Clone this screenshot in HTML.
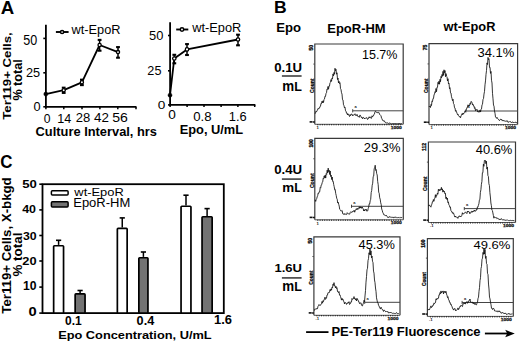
<!DOCTYPE html>
<html><head><meta charset="utf-8"><style>
html,body{margin:0;padding:0;background:#fff;}
svg{display:block;}
text{font-family:"Liberation Sans", sans-serif;}
</style></head><body>
<svg width="520" height="343" viewBox="0 0 520 343">
<rect width="520" height="343" fill="#fff"/>
<text transform="translate(0.73,14.30) scale(1.0600,1)" font-size="17.60" font-weight="bold" fill="#000" stroke="#000" stroke-width="0" >A</text>
<line x1="45.90" y1="24.80" x2="45.90" y2="107.60" stroke="#000" stroke-width="1.8" />
<line x1="45.00" y1="106.80" x2="136.40" y2="106.80" stroke="#000" stroke-width="1.8" />
<line x1="43.30" y1="38.40" x2="45.90" y2="38.40" stroke="#000" stroke-width="1.6" />
<line x1="43.30" y1="72.80" x2="45.90" y2="72.80" stroke="#000" stroke-width="1.6" />
<line x1="43.30" y1="106.80" x2="45.90" y2="106.80" stroke="#000" stroke-width="1.6" />
<line x1="45.90" y1="106.80" x2="45.90" y2="109.20" stroke="#000" stroke-width="1.5" />
<line x1="63.80" y1="106.80" x2="63.80" y2="109.20" stroke="#000" stroke-width="1.5" />
<line x1="82.00" y1="106.80" x2="82.00" y2="109.20" stroke="#000" stroke-width="1.5" />
<line x1="99.90" y1="106.80" x2="99.90" y2="109.20" stroke="#000" stroke-width="1.5" />
<line x1="117.80" y1="106.80" x2="117.80" y2="109.20" stroke="#000" stroke-width="1.5" />
<line x1="136.00" y1="106.80" x2="136.00" y2="109.20" stroke="#000" stroke-width="1.5" />
<text transform="translate(23.30,44.80) scale(0.9148,1)" font-size="13.76" font-weight="normal" fill="#000"  >50</text>
<text transform="translate(25.96,76.90) scale(0.9358,1)" font-size="13.62" font-weight="normal" fill="#000"  >25</text>
<text transform="translate(33.59,110.50) scale(0.9581,1)" font-size="13.33" font-weight="normal" fill="#000"  >0</text>
<text transform="translate(43.71,122.50) scale(0.9013,1)" font-size="13.48" font-weight="normal" fill="#000"  >0</text>
<text transform="translate(57.15,122.50) scale(0.9420,1)" font-size="13.38" font-weight="normal" fill="#000"  >14</text>
<text transform="translate(75.85,122.40) scale(1.0019,1)" font-size="13.05" font-weight="normal" fill="#000"  >28</text>
<text transform="translate(94.00,122.40) scale(1.0269,1)" font-size="13.05" font-weight="normal" fill="#000"  >42</text>
<text transform="translate(112.14,122.40) scale(1.0817,1)" font-size="13.05" font-weight="normal" fill="#000"  >56</text>
<text transform="translate(35.59,136.10) scale(0.9916,1)" font-size="12.97" font-weight="bold" fill="#000" stroke="#000" stroke-width="0" >Culture Interval, hrs</text>
<text transform="translate(11.30,119.73) rotate(-90) scale(1.1838,1)" font-size="11.17" font-weight="bold" fill="#000" stroke="#000" stroke-width="0">Ter119+ Cells,</text>
<text transform="translate(22.40,100.62) rotate(-90) scale(0.9742,1)" font-size="12.97" font-weight="bold" fill="#000" stroke="#000" stroke-width="0">% total</text>
<polyline points="45.80,94.10 63.70,90.20 81.90,82.30 99.60,45.00 118.00,52.10" fill="none" stroke="#000" stroke-width="1.8" stroke-linejoin="round" />
<line x1="63.70" y1="87.70" x2="63.70" y2="92.90" stroke="#000" stroke-width="1.5" />
<line x1="61.80" y1="87.70" x2="65.60" y2="87.70" stroke="#000" stroke-width="2.1" />
<line x1="61.80" y1="92.90" x2="65.60" y2="92.90" stroke="#000" stroke-width="2.1" />
<line x1="81.90" y1="79.70" x2="81.90" y2="85.10" stroke="#000" stroke-width="1.5" />
<line x1="80.00" y1="79.70" x2="83.80" y2="79.70" stroke="#000" stroke-width="2.1" />
<line x1="80.00" y1="85.10" x2="83.80" y2="85.10" stroke="#000" stroke-width="2.1" />
<line x1="99.60" y1="39.90" x2="99.60" y2="50.70" stroke="#000" stroke-width="1.5" />
<line x1="97.70" y1="39.90" x2="101.50" y2="39.90" stroke="#000" stroke-width="2.1" />
<line x1="97.70" y1="50.70" x2="101.50" y2="50.70" stroke="#000" stroke-width="2.1" />
<line x1="118.00" y1="47.10" x2="118.00" y2="57.70" stroke="#000" stroke-width="1.5" />
<line x1="116.10" y1="47.10" x2="119.90" y2="47.10" stroke="#000" stroke-width="2.1" />
<line x1="116.10" y1="57.70" x2="119.90" y2="57.70" stroke="#000" stroke-width="2.1" />
<circle cx="45.80" cy="94.10" r="2.00" fill="#000" stroke="#000" stroke-width="0.5"/>
<circle cx="63.70" cy="90.20" r="1.60" fill="#fff" stroke="#000" stroke-width="1.3"/>
<circle cx="81.90" cy="82.30" r="1.60" fill="#fff" stroke="#000" stroke-width="1.3"/>
<circle cx="99.60" cy="45.00" r="1.60" fill="#fff" stroke="#000" stroke-width="1.3"/>
<circle cx="118.00" cy="52.10" r="1.60" fill="#fff" stroke="#000" stroke-width="1.3"/>
<line x1="55.90" y1="32.00" x2="68.60" y2="32.00" stroke="#000" stroke-width="1.9" />
<circle cx="62.10" cy="32.00" r="1.60" fill="#fff" stroke="#000" stroke-width="1.5"/>
<text transform="translate(71.53,34.30) scale(0.9563,1)" font-size="13.38" font-weight="normal" fill="#000"  >wt-EpoR</text>
<line x1="170.10" y1="22.30" x2="170.10" y2="105.80" stroke="#000" stroke-width="1.8" />
<line x1="169.20" y1="104.90" x2="255.40" y2="104.90" stroke="#000" stroke-width="1.8" />
<line x1="168.00" y1="35.50" x2="170.10" y2="35.50" stroke="#000" stroke-width="1.6" />
<line x1="168.00" y1="70.80" x2="170.10" y2="70.80" stroke="#000" stroke-width="1.6" />
<line x1="168.00" y1="104.90" x2="170.10" y2="104.90" stroke="#000" stroke-width="1.6" />
<line x1="170.10" y1="104.90" x2="170.10" y2="107.00" stroke="#000" stroke-width="1.5" />
<line x1="187.10" y1="104.90" x2="187.10" y2="107.00" stroke="#000" stroke-width="1.5" />
<line x1="204.00" y1="104.90" x2="204.00" y2="107.00" stroke="#000" stroke-width="1.5" />
<line x1="221.10" y1="104.90" x2="221.10" y2="107.00" stroke="#000" stroke-width="1.5" />
<line x1="237.90" y1="104.90" x2="237.90" y2="107.00" stroke="#000" stroke-width="1.5" />
<line x1="254.70" y1="104.90" x2="254.70" y2="107.00" stroke="#000" stroke-width="1.5" />
<text transform="translate(148.98,39.70) scale(0.9558,1)" font-size="13.48" font-weight="normal" fill="#000"  >50</text>
<text transform="translate(147.37,75.10) scale(0.9485,1)" font-size="13.33" font-weight="normal" fill="#000"  >25</text>
<text transform="translate(157.76,109.40) scale(1.1868,1)" font-size="11.47" font-weight="normal" fill="#000"  >0</text>
<text transform="translate(168.26,119.40) scale(1.0377,1)" font-size="13.12" font-weight="normal" fill="#000"  >0</text>
<text transform="translate(193.27,120.80) scale(1.0731,1)" font-size="12.33" font-weight="normal" fill="#000"  >0.8</text>
<text transform="translate(228.73,120.70) scale(0.9563,1)" font-size="13.48" font-weight="normal" fill="#000"  >1.6</text>
<text transform="translate(179.63,134.30) scale(1.0716,1)" font-size="12.00" font-weight="bold" fill="#000" stroke="#000" stroke-width="0" >Epo, U/mL</text>
<polyline points="170.00,95.20 174.30,58.50 187.00,49.40 238.00,39.50" fill="none" stroke="#000" stroke-width="1.8" stroke-linejoin="round" />
<line x1="174.30" y1="54.80" x2="174.30" y2="63.30" stroke="#000" stroke-width="1.5" />
<line x1="172.40" y1="54.80" x2="176.20" y2="54.80" stroke="#000" stroke-width="2.1" />
<line x1="172.40" y1="63.30" x2="176.20" y2="63.30" stroke="#000" stroke-width="2.1" />
<line x1="187.00" y1="44.10" x2="187.00" y2="55.00" stroke="#000" stroke-width="1.5" />
<line x1="185.10" y1="44.10" x2="188.90" y2="44.10" stroke="#000" stroke-width="2.1" />
<line x1="185.10" y1="55.00" x2="188.90" y2="55.00" stroke="#000" stroke-width="2.1" />
<line x1="238.00" y1="34.70" x2="238.00" y2="45.30" stroke="#000" stroke-width="1.5" />
<line x1="236.10" y1="34.70" x2="239.90" y2="34.70" stroke="#000" stroke-width="2.1" />
<line x1="236.10" y1="45.30" x2="239.90" y2="45.30" stroke="#000" stroke-width="2.1" />
<circle cx="170.00" cy="95.20" r="2.00" fill="#000" stroke="#000" stroke-width="0.5"/>
<circle cx="174.30" cy="58.50" r="1.70" fill="#fff" stroke="#000" stroke-width="1.3"/>
<circle cx="187.00" cy="49.40" r="1.70" fill="#fff" stroke="#000" stroke-width="1.3"/>
<circle cx="238.00" cy="39.50" r="1.70" fill="#fff" stroke="#000" stroke-width="1.3"/>
<line x1="176.20" y1="29.50" x2="188.30" y2="29.50" stroke="#000" stroke-width="1.9" />
<circle cx="182.00" cy="29.50" r="1.70" fill="#fff" stroke="#000" stroke-width="1.5"/>
<text transform="translate(192.23,31.80) scale(0.9796,1)" font-size="13.09" font-weight="normal" fill="#000"  >wt-EpoR</text>
<text transform="translate(0.22,167.80) scale(0.9610,1)" font-size="17.63" font-weight="bold" fill="#000" stroke="#000" stroke-width="0" >C</text>
<rect x="42.50" y="184.20" width="181.30" height="128.90" fill="none" stroke="#000" stroke-width="1.8"/>
<line x1="39.30" y1="184.20" x2="42.50" y2="184.20" stroke="#000" stroke-width="1.6" />
<line x1="39.30" y1="209.90" x2="42.50" y2="209.90" stroke="#000" stroke-width="1.6" />
<line x1="39.30" y1="235.50" x2="42.50" y2="235.50" stroke="#000" stroke-width="1.6" />
<line x1="39.30" y1="261.00" x2="42.50" y2="261.00" stroke="#000" stroke-width="1.6" />
<line x1="39.30" y1="287.10" x2="42.50" y2="287.10" stroke="#000" stroke-width="1.6" />
<line x1="39.30" y1="313.10" x2="42.50" y2="313.10" stroke="#000" stroke-width="1.6" />
<text transform="translate(22.30,188.20) scale(1.1780,1)" font-size="11.18" font-weight="bold" fill="#000" stroke="#000" stroke-width="0" >50</text>
<text transform="translate(22.21,213.30) scale(1.1396,1)" font-size="10.90" font-weight="bold" fill="#000" stroke="#000" stroke-width="0" >40</text>
<text transform="translate(22.92,239.80) scale(1.1156,1)" font-size="11.04" font-weight="bold" fill="#000" stroke="#000" stroke-width="0" >30</text>
<text transform="translate(22.25,264.50) scale(1.1793,1)" font-size="10.90" font-weight="bold" fill="#000" stroke="#000" stroke-width="0" >20</text>
<text transform="translate(23.04,289.80) scale(0.9902,1)" font-size="12.33" font-weight="bold" fill="#000" stroke="#000" stroke-width="0" >10</text>
<text transform="translate(28.51,315.80) scale(1.2384,1)" font-size="11.90" font-weight="bold" fill="#000" stroke="#000" stroke-width="0" >0</text>
<text transform="translate(11.00,313.73) rotate(-90) scale(1.0568,1)" font-size="12.55" font-weight="bold" fill="#000" stroke="#000" stroke-width="0">Ter119+ Cells, X-bkgd</text>
<text transform="translate(21.60,276.54) rotate(-90) scale(1.0348,1)" font-size="12.97" font-weight="bold" fill="#000" stroke="#000" stroke-width="0">% total</text>
<text transform="translate(65.02,324.80) scale(0.9529,1)" font-size="12.62" font-weight="bold" fill="#000" stroke="#000" stroke-width="0" >0.1</text>
<text transform="translate(136.59,324.80) scale(0.9964,1)" font-size="12.76" font-weight="bold" fill="#000" stroke="#000" stroke-width="0" >0.4</text>
<text transform="translate(214.09,324.40) scale(1.0241,1)" font-size="12.62" font-weight="bold" fill="#000" stroke="#000" stroke-width="0" >1.6</text>
<text transform="translate(58.14,339.30) scale(1.1901,1)" font-size="10.76" font-weight="bold" fill="#000" stroke="#000" stroke-width="0" >Epo Concentration, U/mL</text>
<line x1="58.60" y1="240.30" x2="58.60" y2="244.90" stroke="#000" stroke-width="1.5" />
<line x1="56.00" y1="240.30" x2="61.20" y2="240.30" stroke="#000" stroke-width="1.6" />
<rect x="53.65" y="245.75" width="9.90" height="67.35" fill="#fff" stroke="#000" stroke-width="1.7" rx="0.8"/>
<line x1="80.10" y1="290.50" x2="80.10" y2="293.10" stroke="#000" stroke-width="1.5" />
<line x1="77.50" y1="290.50" x2="82.70" y2="290.50" stroke="#000" stroke-width="1.6" />
<rect x="75.15" y="293.95" width="9.90" height="19.15" fill="#737373" stroke="#000" stroke-width="1.7" rx="0.8"/>
<line x1="122.25" y1="217.90" x2="122.25" y2="227.50" stroke="#000" stroke-width="1.5" />
<line x1="119.65" y1="217.90" x2="124.85" y2="217.90" stroke="#000" stroke-width="1.6" />
<rect x="117.35" y="228.35" width="9.80" height="84.75" fill="#fff" stroke="#000" stroke-width="1.7" rx="0.8"/>
<line x1="143.40" y1="252.00" x2="143.40" y2="256.90" stroke="#000" stroke-width="1.5" />
<line x1="140.80" y1="252.00" x2="146.00" y2="252.00" stroke="#000" stroke-width="1.6" />
<rect x="138.85" y="257.75" width="9.10" height="55.35" fill="#737373" stroke="#000" stroke-width="1.7" rx="0.8"/>
<line x1="186.00" y1="195.20" x2="186.00" y2="205.40" stroke="#000" stroke-width="1.5" />
<line x1="183.40" y1="195.20" x2="188.60" y2="195.20" stroke="#000" stroke-width="1.6" />
<rect x="181.05" y="206.25" width="9.90" height="106.85" fill="#fff" stroke="#000" stroke-width="1.7" rx="0.8"/>
<line x1="207.10" y1="208.60" x2="207.10" y2="215.90" stroke="#000" stroke-width="1.5" />
<line x1="204.50" y1="208.60" x2="209.70" y2="208.60" stroke="#000" stroke-width="1.6" />
<rect x="202.05" y="216.75" width="10.10" height="96.35" fill="#737373" stroke="#000" stroke-width="1.7" rx="0.8"/>
<rect x="51.4" y="190.7" width="16.7" height="4.4" fill="#fff" stroke="#000" stroke-width="1.5" rx="1"/>
<rect x="51.4" y="201.8" width="16.7" height="5.1" fill="#737373" stroke="#000" stroke-width="1.5" rx="1"/>
<text transform="translate(74.33,196.30) scale(1.1088,1)" font-size="11.64" font-weight="normal" fill="#000"  >wt-EpoR</text>
<text transform="translate(73.23,207.30) scale(1.0635,1)" font-size="12.22" font-weight="normal" fill="#000"  >EpoR-HM</text>
<text transform="translate(274.12,13.40) scale(1.0351,1)" font-size="16.95" font-weight="bold" fill="#000" stroke="#000" stroke-width="0" >B</text>
<text transform="translate(276.31,32.30) scale(1.0618,1)" font-size="12.36" font-weight="bold" fill="#000" stroke="#000" stroke-width="0" >Epo</text>
<text transform="translate(327.22,33.00) scale(1.0034,1)" font-size="12.95" font-weight="bold" fill="#000" stroke="#000" stroke-width="0" >EpoR-HM</text>
<text transform="translate(443.43,30.80) scale(1.0145,1)" font-size="12.65" font-weight="bold" fill="#000" stroke="#000" stroke-width="0" >wt-EpoR</text>
<text transform="translate(274.17,72.40) scale(1.0021,1)" font-size="13.19" font-weight="bold" fill="#000" stroke="#000" stroke-width="0" >0.1U</text>
<line x1="281.90" y1="76.00" x2="301.60" y2="76.00" stroke="#4a4a4a" stroke-width="1.7" />
<text transform="translate(282.13,90.70) scale(0.9461,1)" font-size="14.14" font-weight="bold" fill="#000" stroke="#000" stroke-width="0" >m</text>
<text transform="translate(294.26,90.70) scale(0.9332,1)" font-size="13.38" font-weight="bold" fill="#000" stroke="#000" stroke-width="0" >L</text>
<text transform="translate(274.17,173.80) scale(1.0846,1)" font-size="12.19" font-weight="bold" fill="#000" stroke="#000" stroke-width="0" >0.4U</text>
<line x1="281.90" y1="179.10" x2="301.60" y2="179.10" stroke="#4a4a4a" stroke-width="1.7" />
<text transform="translate(282.13,191.90) scale(0.9986,1)" font-size="13.40" font-weight="bold" fill="#000" stroke="#000" stroke-width="0" >m</text>
<text transform="translate(294.26,191.90) scale(0.9646,1)" font-size="12.95" font-weight="bold" fill="#000" stroke="#000" stroke-width="0" >L</text>
<text transform="translate(274.48,272.40) scale(1.2151,1)" font-size="10.75" font-weight="bold" fill="#000" stroke="#000" stroke-width="0" >1.6U</text>
<line x1="281.90" y1="277.90" x2="301.60" y2="277.90" stroke="#4a4a4a" stroke-width="1.7" />
<text transform="translate(282.13,290.60) scale(0.9587,1)" font-size="13.95" font-weight="bold" fill="#000" stroke="#000" stroke-width="0" >m</text>
<text transform="translate(294.26,290.60) scale(0.9232,1)" font-size="13.53" font-weight="bold" fill="#000" stroke="#000" stroke-width="0" >L</text>
<text transform="translate(361.96,58.80) scale(0.9903,1)" font-size="12.66" font-weight="normal" fill="#000"  >15.7%</text>
<text transform="translate(477.41,57.40) scale(0.9897,1)" font-size="13.12" font-weight="normal" fill="#000"  >34.1%</text>
<text transform="translate(363.86,151.90) scale(1.0340,1)" font-size="12.47" font-weight="normal" fill="#000"  >29.3%</text>
<text transform="translate(475.71,154.00) scale(1.0036,1)" font-size="12.90" font-weight="normal" fill="#000"  >40.6%</text>
<text transform="translate(358.51,249.00) scale(0.9952,1)" font-size="12.90" font-weight="normal" fill="#000"  >45.3%</text>
<text transform="translate(473.51,249.00) scale(1.1353,1)" font-size="11.47" font-weight="normal" fill="#000"  >49.6%</text>
<text transform="translate(331.42,336.20) scale(1.0708,1)" font-size="12.14" font-weight="bold" fill="#000" stroke="#000" stroke-width="0" >PE-Ter119 Fluorescence</text>
<line x1="306.10" y1="332.10" x2="328.50" y2="332.10" stroke="#000" stroke-width="1.8" />
<line x1="484.90" y1="333.50" x2="508.00" y2="333.50" stroke="#000" stroke-width="1.8" />
<polygon points="505.2,329.8 514.8,333.5 505.2,337.3 507.2,333.5" fill="#000"/>
<polyline points="314.80,124.30 314.80,44.00 403.20,44.00 403.20,124.30" fill="none" stroke="#3a3a3a" stroke-width="1.2"/>
<line x1="314.80" y1="124.30" x2="403.20" y2="124.30" stroke="#555" stroke-width="1.0" />
<line x1="317.80" y1="124.10" x2="317.80" y2="125.30" stroke="#222" stroke-width="1.0" />
<line x1="320.10" y1="124.10" x2="320.10" y2="125.30" stroke="#222" stroke-width="1.0" />
<line x1="322.40" y1="124.10" x2="322.40" y2="125.30" stroke="#222" stroke-width="1.0" />
<line x1="324.70" y1="124.10" x2="324.70" y2="125.30" stroke="#222" stroke-width="1.0" />
<line x1="327.00" y1="124.10" x2="327.00" y2="125.30" stroke="#222" stroke-width="1.0" />
<line x1="329.30" y1="124.10" x2="329.30" y2="125.30" stroke="#222" stroke-width="1.0" />
<line x1="331.60" y1="124.10" x2="331.60" y2="125.30" stroke="#222" stroke-width="1.0" />
<line x1="333.90" y1="124.10" x2="333.90" y2="125.30" stroke="#222" stroke-width="1.0" />
<line x1="336.20" y1="124.10" x2="336.20" y2="125.30" stroke="#222" stroke-width="1.0" />
<line x1="338.50" y1="124.10" x2="338.50" y2="125.30" stroke="#222" stroke-width="1.0" />
<line x1="340.80" y1="124.10" x2="340.80" y2="125.30" stroke="#222" stroke-width="1.0" />
<line x1="343.10" y1="124.10" x2="343.10" y2="125.30" stroke="#222" stroke-width="1.0" />
<line x1="345.40" y1="124.10" x2="345.40" y2="125.30" stroke="#222" stroke-width="1.0" />
<line x1="347.70" y1="124.10" x2="347.70" y2="125.30" stroke="#222" stroke-width="1.0" />
<line x1="350.00" y1="124.10" x2="350.00" y2="125.30" stroke="#222" stroke-width="1.0" />
<line x1="352.30" y1="124.10" x2="352.30" y2="125.30" stroke="#222" stroke-width="1.0" />
<line x1="354.60" y1="124.10" x2="354.60" y2="125.30" stroke="#222" stroke-width="1.0" />
<line x1="356.90" y1="124.10" x2="356.90" y2="125.30" stroke="#222" stroke-width="1.0" />
<line x1="359.20" y1="124.10" x2="359.20" y2="125.30" stroke="#222" stroke-width="1.0" />
<line x1="361.50" y1="124.10" x2="361.50" y2="125.30" stroke="#222" stroke-width="1.0" />
<line x1="363.80" y1="124.10" x2="363.80" y2="125.30" stroke="#222" stroke-width="1.0" />
<line x1="366.10" y1="124.10" x2="366.10" y2="125.30" stroke="#222" stroke-width="1.0" />
<line x1="368.40" y1="124.10" x2="368.40" y2="125.30" stroke="#222" stroke-width="1.0" />
<line x1="370.70" y1="124.10" x2="370.70" y2="125.30" stroke="#222" stroke-width="1.0" />
<line x1="373.00" y1="124.10" x2="373.00" y2="125.30" stroke="#222" stroke-width="1.0" />
<line x1="375.30" y1="124.10" x2="375.30" y2="125.30" stroke="#222" stroke-width="1.0" />
<line x1="377.60" y1="124.10" x2="377.60" y2="125.30" stroke="#222" stroke-width="1.0" />
<line x1="379.90" y1="124.10" x2="379.90" y2="125.30" stroke="#222" stroke-width="1.0" />
<line x1="382.20" y1="124.10" x2="382.20" y2="125.30" stroke="#222" stroke-width="1.0" />
<line x1="384.50" y1="124.10" x2="384.50" y2="125.30" stroke="#222" stroke-width="1.0" />
<line x1="386.80" y1="124.10" x2="386.80" y2="125.30" stroke="#222" stroke-width="1.0" />
<line x1="389.10" y1="124.10" x2="389.10" y2="125.30" stroke="#222" stroke-width="1.0" />
<line x1="391.40" y1="124.10" x2="391.40" y2="125.30" stroke="#222" stroke-width="1.0" />
<line x1="393.70" y1="124.10" x2="393.70" y2="125.30" stroke="#222" stroke-width="1.0" />
<line x1="396.00" y1="124.10" x2="396.00" y2="125.30" stroke="#222" stroke-width="1.0" />
<line x1="398.30" y1="124.10" x2="398.30" y2="125.30" stroke="#222" stroke-width="1.0" />
<line x1="400.60" y1="124.10" x2="400.60" y2="125.30" stroke="#222" stroke-width="1.0" />
<line x1="313.00" y1="122.00" x2="314.80" y2="122.00" stroke="#111" stroke-width="1.5" />
<line x1="313.30" y1="64.08" x2="314.80" y2="64.08" stroke="#444" stroke-width="0.9" />
<text transform="translate(312.80,50.50) rotate(-90)" font-size="4.6" font-weight="bold" fill="#111" stroke="#111" stroke-width="0.35" textLength="5.5" lengthAdjust="spacingAndGlyphs">50</text>
<text transform="translate(313.50,92.98) rotate(-90)" font-size="4.6" font-weight="bold" fill="#111" stroke="#111" stroke-width="0.3" textLength="14.45" lengthAdjust="spacingAndGlyphs">Count</text>
<rect x="309.60" y="121.10" width="3" height="1.6" fill="#111"/>
<text x="316.40" y="129.10" font-size="4.2" font-weight="bold" fill="#111">1</text>
<text x="390.70" y="128.70" font-size="4.2" font-weight="bold" fill="#111" stroke="#111" stroke-width="0.25" textLength="11" lengthAdjust="spacingAndGlyphs">1000</text>
<line x1="352.70" y1="110.80" x2="403.20" y2="110.80" stroke="#444" stroke-width="1.0" />
<line x1="352.70" y1="109.20" x2="352.70" y2="112.40" stroke="#333" stroke-width="0.9" />
<text x="354.50" y="108.20" font-size="4" font-weight="bold" fill="#222">a</text>
<polyline points="315.00,113.77 315.50,113.17 316.00,111.22 316.50,111.84 317.00,110.85 317.50,110.01 318.00,108.38 318.50,108.82 319.00,107.87 319.50,108.14 320.00,106.36 320.50,106.22 321.00,103.30 321.50,103.57 322.00,101.28 322.50,102.86 323.00,100.81 323.50,102.55 324.00,99.35 324.50,98.94 325.00,96.19 325.50,96.36 326.00,93.56 326.50,92.77 327.00,88.97 327.50,89.38 328.00,86.51 328.50,89.28 329.00,85.85 329.50,86.05 330.00,82.67 330.50,82.19 331.00,79.64 331.50,81.36 332.00,77.97 332.50,78.72 333.00,73.92 333.50,75.89 334.00,72.49 334.50,74.24 335.00,68.27 335.50,70.71 336.00,69.34 336.50,74.21 337.00,72.80 337.50,79.57 338.00,78.01 338.50,82.95 339.00,81.28 339.50,83.58 340.00,82.72 340.50,88.61 341.00,89.54 341.50,92.74 342.00,94.08 342.50,99.61 343.00,99.89 343.50,104.82 344.00,105.69 344.50,107.98 345.00,107.29 345.50,110.72 346.00,111.15 346.50,113.13 347.00,112.88 347.50,114.97 348.00,113.80 348.50,114.99 349.00,115.43 349.50,116.50 350.00,114.55 350.50,115.63 351.00,114.20 351.50,114.18 352.00,114.05 352.50,115.93 353.00,115.24 353.50,115.04 354.00,114.61 354.50,114.64 355.00,113.74 355.50,115.39 356.00,115.60 356.50,115.53 357.00,114.36 357.50,116.01 358.00,116.06 358.50,117.09 359.00,116.56 359.50,117.32 360.00,114.95 360.50,115.91 361.00,116.55 361.50,117.69 362.00,117.11 362.50,118.78 363.00,117.66 363.50,117.44 364.00,117.84 364.50,118.99 365.00,117.98 365.50,118.28 366.00,117.74 366.50,117.86 367.00,117.78 367.50,119.46 368.00,118.97 368.50,118.64 369.00,116.87 369.50,117.72 370.00,116.78 370.50,117.88 371.00,118.04 371.50,118.34 372.00,115.80 372.50,116.78 373.00,115.70 373.50,115.83 374.00,114.21 374.50,113.90 375.00,111.61 375.50,111.34 376.00,111.65 376.50,112.39 377.00,111.99 377.50,112.76 378.00,112.50 378.50,112.43 379.00,112.56 379.50,114.32 380.00,114.69 380.50,115.21 381.00,115.60 381.50,118.17 382.00,118.76 382.50,120.35 383.00,120.68 383.50,120.84 384.00,120.40 384.50,121.62 385.00,121.63 385.50,122.71 386.00,122.53 386.50,122.93 387.00,122.65 387.50,122.91 388.00,122.92 388.50,123.46 389.00,122.99 389.50,123.16 390.00,122.85 390.50,123.43 391.00,123.36 391.50,123.86 392.00,123.59 392.50,123.69 393.00,123.13 393.50,123.74 394.00,123.16 394.50,123.61 395.00,123.43 395.50,123.56 396.00,123.15 396.50,123.72 397.00,123.31 397.50,123.70 398.00,123.47 398.50,123.78 399.00,123.00 399.50,123.65 400.00,123.24 400.50,123.86 401.00,123.30 401.50,123.68 402.00,123.32" fill="none" stroke="#111" stroke-width="0.85" stroke-linejoin="round" />
<polyline points="429.00,124.60 429.00,43.70 517.60,43.70 517.60,124.60" fill="none" stroke="#3a3a3a" stroke-width="1.2"/>
<line x1="429.00" y1="124.60" x2="517.60" y2="124.60" stroke="#555" stroke-width="1.0" />
<line x1="432.00" y1="124.40" x2="432.00" y2="125.60" stroke="#222" stroke-width="1.0" />
<line x1="434.30" y1="124.40" x2="434.30" y2="125.60" stroke="#222" stroke-width="1.0" />
<line x1="436.60" y1="124.40" x2="436.60" y2="125.60" stroke="#222" stroke-width="1.0" />
<line x1="438.90" y1="124.40" x2="438.90" y2="125.60" stroke="#222" stroke-width="1.0" />
<line x1="441.20" y1="124.40" x2="441.20" y2="125.60" stroke="#222" stroke-width="1.0" />
<line x1="443.50" y1="124.40" x2="443.50" y2="125.60" stroke="#222" stroke-width="1.0" />
<line x1="445.80" y1="124.40" x2="445.80" y2="125.60" stroke="#222" stroke-width="1.0" />
<line x1="448.10" y1="124.40" x2="448.10" y2="125.60" stroke="#222" stroke-width="1.0" />
<line x1="450.40" y1="124.40" x2="450.40" y2="125.60" stroke="#222" stroke-width="1.0" />
<line x1="452.70" y1="124.40" x2="452.70" y2="125.60" stroke="#222" stroke-width="1.0" />
<line x1="455.00" y1="124.40" x2="455.00" y2="125.60" stroke="#222" stroke-width="1.0" />
<line x1="457.30" y1="124.40" x2="457.30" y2="125.60" stroke="#222" stroke-width="1.0" />
<line x1="459.60" y1="124.40" x2="459.60" y2="125.60" stroke="#222" stroke-width="1.0" />
<line x1="461.90" y1="124.40" x2="461.90" y2="125.60" stroke="#222" stroke-width="1.0" />
<line x1="464.20" y1="124.40" x2="464.20" y2="125.60" stroke="#222" stroke-width="1.0" />
<line x1="466.50" y1="124.40" x2="466.50" y2="125.60" stroke="#222" stroke-width="1.0" />
<line x1="468.80" y1="124.40" x2="468.80" y2="125.60" stroke="#222" stroke-width="1.0" />
<line x1="471.10" y1="124.40" x2="471.10" y2="125.60" stroke="#222" stroke-width="1.0" />
<line x1="473.40" y1="124.40" x2="473.40" y2="125.60" stroke="#222" stroke-width="1.0" />
<line x1="475.70" y1="124.40" x2="475.70" y2="125.60" stroke="#222" stroke-width="1.0" />
<line x1="478.00" y1="124.40" x2="478.00" y2="125.60" stroke="#222" stroke-width="1.0" />
<line x1="480.30" y1="124.40" x2="480.30" y2="125.60" stroke="#222" stroke-width="1.0" />
<line x1="482.60" y1="124.40" x2="482.60" y2="125.60" stroke="#222" stroke-width="1.0" />
<line x1="484.90" y1="124.40" x2="484.90" y2="125.60" stroke="#222" stroke-width="1.0" />
<line x1="487.20" y1="124.40" x2="487.20" y2="125.60" stroke="#222" stroke-width="1.0" />
<line x1="489.50" y1="124.40" x2="489.50" y2="125.60" stroke="#222" stroke-width="1.0" />
<line x1="491.80" y1="124.40" x2="491.80" y2="125.60" stroke="#222" stroke-width="1.0" />
<line x1="494.10" y1="124.40" x2="494.10" y2="125.60" stroke="#222" stroke-width="1.0" />
<line x1="496.40" y1="124.40" x2="496.40" y2="125.60" stroke="#222" stroke-width="1.0" />
<line x1="498.70" y1="124.40" x2="498.70" y2="125.60" stroke="#222" stroke-width="1.0" />
<line x1="501.00" y1="124.40" x2="501.00" y2="125.60" stroke="#222" stroke-width="1.0" />
<line x1="503.30" y1="124.40" x2="503.30" y2="125.60" stroke="#222" stroke-width="1.0" />
<line x1="505.60" y1="124.40" x2="505.60" y2="125.60" stroke="#222" stroke-width="1.0" />
<line x1="507.90" y1="124.40" x2="507.90" y2="125.60" stroke="#222" stroke-width="1.0" />
<line x1="510.20" y1="124.40" x2="510.20" y2="125.60" stroke="#222" stroke-width="1.0" />
<line x1="512.50" y1="124.40" x2="512.50" y2="125.60" stroke="#222" stroke-width="1.0" />
<line x1="514.80" y1="124.40" x2="514.80" y2="125.60" stroke="#222" stroke-width="1.0" />
<line x1="427.20" y1="122.30" x2="429.00" y2="122.30" stroke="#111" stroke-width="1.5" />
<line x1="427.50" y1="63.92" x2="429.00" y2="63.92" stroke="#444" stroke-width="0.9" />
<text transform="translate(427.00,50.20) rotate(-90)" font-size="4.6" font-weight="bold" fill="#111" stroke="#111" stroke-width="0.35" textLength="5.5" lengthAdjust="spacingAndGlyphs">75</text>
<text transform="translate(427.70,93.05) rotate(-90)" font-size="4.6" font-weight="bold" fill="#111" stroke="#111" stroke-width="0.3" textLength="14.56" lengthAdjust="spacingAndGlyphs">Count</text>
<rect x="423.80" y="121.40" width="3" height="1.6" fill="#111"/>
<text x="430.60" y="129.40" font-size="4.2" font-weight="bold" fill="#111">1</text>
<text x="505.10" y="129.00" font-size="4.2" font-weight="bold" fill="#111" stroke="#111" stroke-width="0.25" textLength="11" lengthAdjust="spacingAndGlyphs">1000</text>
<line x1="465.80" y1="111.00" x2="517.60" y2="111.00" stroke="#444" stroke-width="1.0" />
<line x1="465.80" y1="109.40" x2="465.80" y2="112.60" stroke="#333" stroke-width="0.9" />
<text x="467.60" y="108.40" font-size="4" font-weight="bold" fill="#222">a</text>
<polyline points="429.00,106.28 429.50,106.83 430.00,106.06 430.50,107.49 431.00,104.47 431.50,105.50 432.00,100.91 432.50,101.54 433.00,98.46 433.50,98.45 434.00,94.98 434.50,93.93 435.00,91.70 435.50,92.52 436.00,88.52 436.50,91.72 437.00,87.22 437.50,87.26 438.00,82.35 438.50,84.10 439.00,81.13 439.50,84.22 440.00,79.35 440.50,81.69 441.00,76.41 441.50,77.87 442.00,74.47 442.50,76.27 443.00,71.35 443.50,75.40 444.00,69.81 444.50,72.69 445.00,70.60 445.50,76.70 446.00,73.59 446.50,76.15 447.00,76.63 447.50,81.01 448.00,78.73 448.50,84.02 449.00,83.27 449.50,88.70 450.00,87.68 450.50,92.81 451.00,93.06 451.50,96.79 452.00,98.31 452.50,100.72 453.00,99.20 453.50,103.60 454.00,104.20 454.50,107.67 455.00,107.88 455.50,111.29 456.00,110.42 456.50,111.92 457.00,113.17 457.50,114.68 458.00,114.08 458.50,115.77 459.00,116.49 459.50,116.71 460.00,116.40 460.50,117.79 461.00,115.91 461.50,115.22 462.00,113.74 462.50,114.70 463.00,112.97 463.50,114.22 464.00,112.89 464.50,112.44 465.00,110.85 465.50,111.63 466.00,110.33 466.50,109.35 467.00,107.30 467.50,107.24 468.00,104.80 468.50,106.20 469.00,105.06 469.50,105.79 470.00,103.37 470.50,104.25 471.00,101.37 471.50,101.82 472.00,102.24 472.50,104.94 473.00,104.19 473.50,106.03 474.00,105.85 474.50,108.39 475.00,107.68 475.50,110.76 476.00,109.54 476.50,110.06 477.00,109.36 477.50,111.69 478.00,110.88 478.50,112.23 479.00,111.57 479.50,112.18 480.00,109.96 480.50,112.03 481.00,109.51 481.50,108.99 482.00,104.91 482.50,104.23 483.00,99.54 483.50,98.62 484.00,94.08 484.50,91.40 485.00,84.79 485.50,80.90 486.00,74.52 486.50,70.57 487.00,62.90 487.50,64.52 488.00,57.42 488.50,59.66 489.00,58.73 489.50,67.37 490.00,67.22 490.50,73.39 491.00,71.44 491.50,80.21 492.00,83.01 492.50,93.29 493.00,98.82 493.50,105.07 494.00,106.18 494.50,110.98 495.00,113.28 495.50,116.96 496.00,117.54 496.50,118.34 497.00,117.39 497.50,118.41 498.00,118.74 498.50,119.63 499.00,119.73 499.50,120.64 500.00,119.69 500.50,119.37 501.00,118.99 501.50,119.97 502.00,119.62 502.50,121.05 503.00,120.47 503.50,120.63 504.00,120.25 504.50,121.14 505.00,120.95 505.50,121.21 506.00,120.92 506.50,121.28 507.00,120.56 507.50,121.85 508.00,122.10 508.50,122.38 509.00,121.48 509.50,122.07 510.00,121.46 510.50,121.78 511.00,121.97 511.50,122.67 512.00,121.96 512.50,122.09 513.00,121.96 513.50,122.86 514.00,122.27 514.50,122.78 515.00,122.27 515.50,122.32 516.00,121.94 516.50,122.93 517.00,122.80" fill="none" stroke="#111" stroke-width="0.85" stroke-linejoin="round" />
<polyline points="314.80,219.80 314.80,138.40 403.30,138.40 403.30,219.80" fill="none" stroke="#3a3a3a" stroke-width="1.2"/>
<line x1="314.80" y1="219.80" x2="403.30" y2="219.80" stroke="#555" stroke-width="1.0" />
<line x1="317.80" y1="219.60" x2="317.80" y2="220.80" stroke="#222" stroke-width="1.0" />
<line x1="320.10" y1="219.60" x2="320.10" y2="220.80" stroke="#222" stroke-width="1.0" />
<line x1="322.40" y1="219.60" x2="322.40" y2="220.80" stroke="#222" stroke-width="1.0" />
<line x1="324.70" y1="219.60" x2="324.70" y2="220.80" stroke="#222" stroke-width="1.0" />
<line x1="327.00" y1="219.60" x2="327.00" y2="220.80" stroke="#222" stroke-width="1.0" />
<line x1="329.30" y1="219.60" x2="329.30" y2="220.80" stroke="#222" stroke-width="1.0" />
<line x1="331.60" y1="219.60" x2="331.60" y2="220.80" stroke="#222" stroke-width="1.0" />
<line x1="333.90" y1="219.60" x2="333.90" y2="220.80" stroke="#222" stroke-width="1.0" />
<line x1="336.20" y1="219.60" x2="336.20" y2="220.80" stroke="#222" stroke-width="1.0" />
<line x1="338.50" y1="219.60" x2="338.50" y2="220.80" stroke="#222" stroke-width="1.0" />
<line x1="340.80" y1="219.60" x2="340.80" y2="220.80" stroke="#222" stroke-width="1.0" />
<line x1="343.10" y1="219.60" x2="343.10" y2="220.80" stroke="#222" stroke-width="1.0" />
<line x1="345.40" y1="219.60" x2="345.40" y2="220.80" stroke="#222" stroke-width="1.0" />
<line x1="347.70" y1="219.60" x2="347.70" y2="220.80" stroke="#222" stroke-width="1.0" />
<line x1="350.00" y1="219.60" x2="350.00" y2="220.80" stroke="#222" stroke-width="1.0" />
<line x1="352.30" y1="219.60" x2="352.30" y2="220.80" stroke="#222" stroke-width="1.0" />
<line x1="354.60" y1="219.60" x2="354.60" y2="220.80" stroke="#222" stroke-width="1.0" />
<line x1="356.90" y1="219.60" x2="356.90" y2="220.80" stroke="#222" stroke-width="1.0" />
<line x1="359.20" y1="219.60" x2="359.20" y2="220.80" stroke="#222" stroke-width="1.0" />
<line x1="361.50" y1="219.60" x2="361.50" y2="220.80" stroke="#222" stroke-width="1.0" />
<line x1="363.80" y1="219.60" x2="363.80" y2="220.80" stroke="#222" stroke-width="1.0" />
<line x1="366.10" y1="219.60" x2="366.10" y2="220.80" stroke="#222" stroke-width="1.0" />
<line x1="368.40" y1="219.60" x2="368.40" y2="220.80" stroke="#222" stroke-width="1.0" />
<line x1="370.70" y1="219.60" x2="370.70" y2="220.80" stroke="#222" stroke-width="1.0" />
<line x1="373.00" y1="219.60" x2="373.00" y2="220.80" stroke="#222" stroke-width="1.0" />
<line x1="375.30" y1="219.60" x2="375.30" y2="220.80" stroke="#222" stroke-width="1.0" />
<line x1="377.60" y1="219.60" x2="377.60" y2="220.80" stroke="#222" stroke-width="1.0" />
<line x1="379.90" y1="219.60" x2="379.90" y2="220.80" stroke="#222" stroke-width="1.0" />
<line x1="382.20" y1="219.60" x2="382.20" y2="220.80" stroke="#222" stroke-width="1.0" />
<line x1="384.50" y1="219.60" x2="384.50" y2="220.80" stroke="#222" stroke-width="1.0" />
<line x1="386.80" y1="219.60" x2="386.80" y2="220.80" stroke="#222" stroke-width="1.0" />
<line x1="389.10" y1="219.60" x2="389.10" y2="220.80" stroke="#222" stroke-width="1.0" />
<line x1="391.40" y1="219.60" x2="391.40" y2="220.80" stroke="#222" stroke-width="1.0" />
<line x1="393.70" y1="219.60" x2="393.70" y2="220.80" stroke="#222" stroke-width="1.0" />
<line x1="396.00" y1="219.60" x2="396.00" y2="220.80" stroke="#222" stroke-width="1.0" />
<line x1="398.30" y1="219.60" x2="398.30" y2="220.80" stroke="#222" stroke-width="1.0" />
<line x1="400.60" y1="219.60" x2="400.60" y2="220.80" stroke="#222" stroke-width="1.0" />
<line x1="313.00" y1="217.50" x2="314.80" y2="217.50" stroke="#111" stroke-width="1.5" />
<line x1="313.30" y1="158.75" x2="314.80" y2="158.75" stroke="#444" stroke-width="0.9" />
<text transform="translate(312.80,147.40) rotate(-90)" font-size="4.6" font-weight="bold" fill="#111" stroke="#111" stroke-width="0.35" textLength="8.0" lengthAdjust="spacingAndGlyphs">100</text>
<text transform="translate(313.50,188.05) rotate(-90)" font-size="4.6" font-weight="bold" fill="#111" stroke="#111" stroke-width="0.3" textLength="14.65" lengthAdjust="spacingAndGlyphs">Count</text>
<rect x="309.60" y="216.60" width="3" height="1.6" fill="#111"/>
<text x="316.40" y="224.60" font-size="4.2" font-weight="bold" fill="#111">1</text>
<text x="390.80" y="224.20" font-size="4.2" font-weight="bold" fill="#111" stroke="#111" stroke-width="0.25" textLength="11" lengthAdjust="spacingAndGlyphs">1000</text>
<line x1="351.50" y1="206.30" x2="403.30" y2="206.30" stroke="#444" stroke-width="1.0" />
<line x1="351.50" y1="204.70" x2="351.50" y2="207.90" stroke="#333" stroke-width="0.9" />
<text x="353.30" y="203.70" font-size="4" font-weight="bold" fill="#222">a</text>
<polyline points="315.20,199.89 315.70,201.42 316.20,199.53 316.70,198.59 317.20,196.82 317.70,195.59 318.20,193.03 318.70,193.43 319.20,191.69 319.70,191.82 320.20,187.57 320.70,188.07 321.20,185.07 321.70,184.81 322.20,182.62 322.70,182.01 323.20,178.42 323.70,178.94 324.20,175.93 324.70,177.80 325.20,175.03 325.70,178.08 326.20,173.66 326.70,174.36 327.20,170.13 327.70,172.95 328.20,168.13 328.70,171.70 329.20,170.22 329.70,174.53 330.20,170.98 330.70,176.50 331.20,175.14 331.70,179.54 332.20,177.01 332.70,181.42 333.20,181.27 333.70,184.57 334.20,186.69 334.70,189.81 335.20,189.42 335.70,193.42 336.20,195.38 336.70,198.25 337.20,199.19 337.70,203.05 338.20,202.16 338.70,204.29 339.20,206.06 339.70,209.23 340.20,209.69 340.70,210.78 341.20,210.56 341.70,211.01 342.20,210.63 342.70,213.73 343.20,214.01 343.70,214.36 344.20,213.46 344.70,214.51 345.20,213.85 345.70,214.33 346.20,214.51 346.70,214.44 347.20,212.70 347.70,213.42 348.20,213.50 348.70,213.99 349.20,213.94 349.70,214.24 350.20,212.53 350.70,211.79 351.20,211.95 351.70,212.53 352.20,211.49 352.70,211.94 353.20,210.94 353.70,211.24 354.20,210.24 354.70,212.21 355.20,210.62 355.70,210.28 356.20,208.89 356.70,209.58 357.20,208.12 357.70,209.47 358.20,208.95 358.70,208.87 359.20,206.81 359.70,208.28 360.20,206.70 360.70,207.98 361.20,207.09 361.70,208.35 362.20,207.03 362.70,208.22 363.20,208.59 363.70,210.96 364.20,209.71 364.70,211.03 365.20,209.37 365.70,209.76 366.20,209.07 366.70,211.12 367.20,210.97 367.70,210.93 368.20,208.58 368.70,207.10 369.20,203.82 369.70,204.03 370.20,200.78 370.70,199.34 371.20,192.47 371.70,190.47 372.20,185.25 372.70,183.19 373.20,176.44 373.70,176.17 374.20,168.40 374.70,168.22 375.20,165.24 375.70,170.42 376.20,169.60 376.70,173.67 377.20,174.98 377.70,181.61 378.20,184.72 378.70,192.20 379.20,193.29 379.70,197.81 380.20,199.16 380.70,202.81 381.20,204.46 381.70,209.06 382.20,210.24 382.70,212.29 383.20,213.13 383.70,214.59 384.20,214.48 384.70,215.39 385.20,215.41 385.70,215.82 386.20,215.09 386.70,215.83 387.20,216.56 387.70,217.44 388.20,216.91 388.70,217.60 389.20,216.69 389.70,216.75 390.20,216.64 390.70,217.45 391.20,217.04 391.70,217.53 392.20,217.16 392.70,217.62 393.20,216.94 393.70,217.82 394.20,217.53 394.70,217.64 395.20,216.78 395.70,217.54 396.20,217.26 396.70,217.80 397.20,217.63 397.70,217.94 398.20,217.20 398.70,217.61 399.20,217.42 399.70,217.95 400.20,217.50 400.70,217.96 401.20,217.11 401.70,217.69 402.20,217.48" fill="none" stroke="#111" stroke-width="0.85" stroke-linejoin="round" />
<polyline points="428.40,222.50 428.40,142.00 515.50,142.00 515.50,222.50" fill="none" stroke="#3a3a3a" stroke-width="1.2"/>
<line x1="428.40" y1="222.50" x2="515.50" y2="222.50" stroke="#555" stroke-width="1.0" />
<line x1="431.40" y1="222.30" x2="431.40" y2="223.50" stroke="#222" stroke-width="1.0" />
<line x1="433.70" y1="222.30" x2="433.70" y2="223.50" stroke="#222" stroke-width="1.0" />
<line x1="436.00" y1="222.30" x2="436.00" y2="223.50" stroke="#222" stroke-width="1.0" />
<line x1="438.30" y1="222.30" x2="438.30" y2="223.50" stroke="#222" stroke-width="1.0" />
<line x1="440.60" y1="222.30" x2="440.60" y2="223.50" stroke="#222" stroke-width="1.0" />
<line x1="442.90" y1="222.30" x2="442.90" y2="223.50" stroke="#222" stroke-width="1.0" />
<line x1="445.20" y1="222.30" x2="445.20" y2="223.50" stroke="#222" stroke-width="1.0" />
<line x1="447.50" y1="222.30" x2="447.50" y2="223.50" stroke="#222" stroke-width="1.0" />
<line x1="449.80" y1="222.30" x2="449.80" y2="223.50" stroke="#222" stroke-width="1.0" />
<line x1="452.10" y1="222.30" x2="452.10" y2="223.50" stroke="#222" stroke-width="1.0" />
<line x1="454.40" y1="222.30" x2="454.40" y2="223.50" stroke="#222" stroke-width="1.0" />
<line x1="456.70" y1="222.30" x2="456.70" y2="223.50" stroke="#222" stroke-width="1.0" />
<line x1="459.00" y1="222.30" x2="459.00" y2="223.50" stroke="#222" stroke-width="1.0" />
<line x1="461.30" y1="222.30" x2="461.30" y2="223.50" stroke="#222" stroke-width="1.0" />
<line x1="463.60" y1="222.30" x2="463.60" y2="223.50" stroke="#222" stroke-width="1.0" />
<line x1="465.90" y1="222.30" x2="465.90" y2="223.50" stroke="#222" stroke-width="1.0" />
<line x1="468.20" y1="222.30" x2="468.20" y2="223.50" stroke="#222" stroke-width="1.0" />
<line x1="470.50" y1="222.30" x2="470.50" y2="223.50" stroke="#222" stroke-width="1.0" />
<line x1="472.80" y1="222.30" x2="472.80" y2="223.50" stroke="#222" stroke-width="1.0" />
<line x1="475.10" y1="222.30" x2="475.10" y2="223.50" stroke="#222" stroke-width="1.0" />
<line x1="477.40" y1="222.30" x2="477.40" y2="223.50" stroke="#222" stroke-width="1.0" />
<line x1="479.70" y1="222.30" x2="479.70" y2="223.50" stroke="#222" stroke-width="1.0" />
<line x1="482.00" y1="222.30" x2="482.00" y2="223.50" stroke="#222" stroke-width="1.0" />
<line x1="484.30" y1="222.30" x2="484.30" y2="223.50" stroke="#222" stroke-width="1.0" />
<line x1="486.60" y1="222.30" x2="486.60" y2="223.50" stroke="#222" stroke-width="1.0" />
<line x1="488.90" y1="222.30" x2="488.90" y2="223.50" stroke="#222" stroke-width="1.0" />
<line x1="491.20" y1="222.30" x2="491.20" y2="223.50" stroke="#222" stroke-width="1.0" />
<line x1="493.50" y1="222.30" x2="493.50" y2="223.50" stroke="#222" stroke-width="1.0" />
<line x1="495.80" y1="222.30" x2="495.80" y2="223.50" stroke="#222" stroke-width="1.0" />
<line x1="498.10" y1="222.30" x2="498.10" y2="223.50" stroke="#222" stroke-width="1.0" />
<line x1="500.40" y1="222.30" x2="500.40" y2="223.50" stroke="#222" stroke-width="1.0" />
<line x1="502.70" y1="222.30" x2="502.70" y2="223.50" stroke="#222" stroke-width="1.0" />
<line x1="505.00" y1="222.30" x2="505.00" y2="223.50" stroke="#222" stroke-width="1.0" />
<line x1="507.30" y1="222.30" x2="507.30" y2="223.50" stroke="#222" stroke-width="1.0" />
<line x1="509.60" y1="222.30" x2="509.60" y2="223.50" stroke="#222" stroke-width="1.0" />
<line x1="511.90" y1="222.30" x2="511.90" y2="223.50" stroke="#222" stroke-width="1.0" />
<line x1="426.60" y1="220.20" x2="428.40" y2="220.20" stroke="#111" stroke-width="1.5" />
<line x1="426.90" y1="162.12" x2="428.40" y2="162.12" stroke="#444" stroke-width="0.9" />
<text transform="translate(426.40,151.00) rotate(-90)" font-size="4.6" font-weight="bold" fill="#111" stroke="#111" stroke-width="0.35" textLength="8.0" lengthAdjust="spacingAndGlyphs">112</text>
<text transform="translate(427.10,191.10) rotate(-90)" font-size="4.6" font-weight="bold" fill="#111" stroke="#111" stroke-width="0.3" textLength="14.49" lengthAdjust="spacingAndGlyphs">Count</text>
<rect x="423.20" y="219.30" width="3" height="1.6" fill="#111"/>
<text x="430.00" y="227.30" font-size="4.2" font-weight="bold" fill="#111">.1</text>
<text x="503.00" y="226.90" font-size="4.2" font-weight="bold" fill="#111" stroke="#111" stroke-width="0.25" textLength="11" lengthAdjust="spacingAndGlyphs">1000</text>
<line x1="464.30" y1="208.60" x2="515.50" y2="208.60" stroke="#444" stroke-width="1.0" />
<line x1="464.30" y1="207.00" x2="464.30" y2="210.20" stroke="#333" stroke-width="0.9" />
<text x="466.10" y="206.00" font-size="4" font-weight="bold" fill="#222">a</text>
<polyline points="428.40,205.43 428.90,205.57 429.40,204.88 429.90,206.13 430.40,206.41 430.90,207.17 431.40,204.98 431.90,204.18 432.40,201.77 432.90,202.01 433.40,199.56 433.90,201.24 434.40,198.66 434.90,198.39 435.40,194.66 435.90,197.48 436.40,195.09 436.90,195.50 437.40,193.12 437.90,194.17 438.40,189.25 438.90,190.70 439.40,189.52 439.90,190.82 440.40,189.25 440.90,189.77 441.40,187.36 441.90,190.06 442.40,188.85 442.90,192.15 443.40,190.36 443.90,191.83 444.40,191.23 444.90,193.81 445.40,193.24 445.90,198.63 446.40,197.09 446.90,199.44 447.40,198.14 447.90,202.59 448.40,201.86 448.90,204.88 449.40,205.50 449.90,207.43 450.40,206.98 450.90,210.49 451.40,211.11 451.90,212.41 452.40,212.17 452.90,213.51 453.40,212.79 453.90,214.13 454.40,215.61 454.90,217.07 455.40,216.04 455.90,217.16 456.40,216.88 456.90,217.54 457.40,217.38 457.90,218.40 458.40,217.02 458.90,216.14 459.40,215.83 459.90,216.76 460.40,215.97 460.90,216.85 461.40,215.99 461.90,215.29 462.40,212.73 462.90,214.09 463.40,213.83 463.90,213.61 464.40,212.97 464.90,213.19 465.40,211.88 465.90,212.50 466.40,212.96 466.90,213.53 467.40,211.15 467.90,212.14 468.40,211.23 468.90,212.04 469.40,212.09 469.90,213.83 470.40,212.44 470.90,211.78 471.40,211.36 471.90,212.54 472.40,211.21 472.90,212.03 473.40,210.95 473.90,211.33 474.40,210.02 474.90,211.45 475.40,211.04 475.90,211.00 476.40,209.51 476.90,209.96 477.40,206.95 477.90,207.18 478.40,205.35 478.90,203.77 479.40,200.12 479.90,199.18 480.40,192.30 480.90,189.72 481.40,184.32 481.90,181.52 482.40,172.71 482.90,172.71 483.40,164.07 483.90,166.32 484.40,160.41 484.90,160.87 485.40,160.33 485.90,163.70 486.40,161.16 486.90,169.11 487.40,167.06 487.90,175.50 488.40,176.43 488.90,183.82 489.40,185.45 489.90,192.68 490.40,196.99 490.90,203.00 491.40,205.68 491.90,210.11 492.40,210.59 492.90,212.94 493.40,215.57 493.90,218.20 494.40,216.84 494.90,217.20 495.40,217.47 495.90,217.99 496.40,217.60 496.90,218.75 497.40,218.32 497.90,218.48 498.40,218.57 498.90,219.54 499.40,219.31 499.90,220.03 500.40,219.28 500.90,219.54 501.40,218.59 501.90,219.47 502.40,219.68 502.90,220.21 503.40,219.51 503.90,220.15 504.40,219.87 504.90,220.27 505.40,220.16 505.90,220.64 506.40,219.94 506.90,220.35 507.40,219.86 507.90,220.46 508.40,220.55 508.90,221.05 509.40,220.47 509.90,220.57 510.40,220.23 510.90,220.82 511.40,220.15 511.90,220.74 512.40,220.48 512.90,220.79 513.40,220.24 513.90,221.12 514.40,220.82" fill="none" stroke="#111" stroke-width="0.85" stroke-linejoin="round" />
<polyline points="313.90,315.30 313.90,236.90 400.00,236.90 400.00,315.30" fill="none" stroke="#3a3a3a" stroke-width="1.2"/>
<line x1="313.90" y1="315.30" x2="400.00" y2="315.30" stroke="#555" stroke-width="1.0" />
<line x1="316.90" y1="315.10" x2="316.90" y2="316.30" stroke="#222" stroke-width="1.0" />
<line x1="319.20" y1="315.10" x2="319.20" y2="316.30" stroke="#222" stroke-width="1.0" />
<line x1="321.50" y1="315.10" x2="321.50" y2="316.30" stroke="#222" stroke-width="1.0" />
<line x1="323.80" y1="315.10" x2="323.80" y2="316.30" stroke="#222" stroke-width="1.0" />
<line x1="326.10" y1="315.10" x2="326.10" y2="316.30" stroke="#222" stroke-width="1.0" />
<line x1="328.40" y1="315.10" x2="328.40" y2="316.30" stroke="#222" stroke-width="1.0" />
<line x1="330.70" y1="315.10" x2="330.70" y2="316.30" stroke="#222" stroke-width="1.0" />
<line x1="333.00" y1="315.10" x2="333.00" y2="316.30" stroke="#222" stroke-width="1.0" />
<line x1="335.30" y1="315.10" x2="335.30" y2="316.30" stroke="#222" stroke-width="1.0" />
<line x1="337.60" y1="315.10" x2="337.60" y2="316.30" stroke="#222" stroke-width="1.0" />
<line x1="339.90" y1="315.10" x2="339.90" y2="316.30" stroke="#222" stroke-width="1.0" />
<line x1="342.20" y1="315.10" x2="342.20" y2="316.30" stroke="#222" stroke-width="1.0" />
<line x1="344.50" y1="315.10" x2="344.50" y2="316.30" stroke="#222" stroke-width="1.0" />
<line x1="346.80" y1="315.10" x2="346.80" y2="316.30" stroke="#222" stroke-width="1.0" />
<line x1="349.10" y1="315.10" x2="349.10" y2="316.30" stroke="#222" stroke-width="1.0" />
<line x1="351.40" y1="315.10" x2="351.40" y2="316.30" stroke="#222" stroke-width="1.0" />
<line x1="353.70" y1="315.10" x2="353.70" y2="316.30" stroke="#222" stroke-width="1.0" />
<line x1="356.00" y1="315.10" x2="356.00" y2="316.30" stroke="#222" stroke-width="1.0" />
<line x1="358.30" y1="315.10" x2="358.30" y2="316.30" stroke="#222" stroke-width="1.0" />
<line x1="360.60" y1="315.10" x2="360.60" y2="316.30" stroke="#222" stroke-width="1.0" />
<line x1="362.90" y1="315.10" x2="362.90" y2="316.30" stroke="#222" stroke-width="1.0" />
<line x1="365.20" y1="315.10" x2="365.20" y2="316.30" stroke="#222" stroke-width="1.0" />
<line x1="367.50" y1="315.10" x2="367.50" y2="316.30" stroke="#222" stroke-width="1.0" />
<line x1="369.80" y1="315.10" x2="369.80" y2="316.30" stroke="#222" stroke-width="1.0" />
<line x1="372.10" y1="315.10" x2="372.10" y2="316.30" stroke="#222" stroke-width="1.0" />
<line x1="374.40" y1="315.10" x2="374.40" y2="316.30" stroke="#222" stroke-width="1.0" />
<line x1="376.70" y1="315.10" x2="376.70" y2="316.30" stroke="#222" stroke-width="1.0" />
<line x1="379.00" y1="315.10" x2="379.00" y2="316.30" stroke="#222" stroke-width="1.0" />
<line x1="381.30" y1="315.10" x2="381.30" y2="316.30" stroke="#222" stroke-width="1.0" />
<line x1="383.60" y1="315.10" x2="383.60" y2="316.30" stroke="#222" stroke-width="1.0" />
<line x1="385.90" y1="315.10" x2="385.90" y2="316.30" stroke="#222" stroke-width="1.0" />
<line x1="388.20" y1="315.10" x2="388.20" y2="316.30" stroke="#222" stroke-width="1.0" />
<line x1="390.50" y1="315.10" x2="390.50" y2="316.30" stroke="#222" stroke-width="1.0" />
<line x1="392.80" y1="315.10" x2="392.80" y2="316.30" stroke="#222" stroke-width="1.0" />
<line x1="395.10" y1="315.10" x2="395.10" y2="316.30" stroke="#222" stroke-width="1.0" />
<line x1="397.40" y1="315.10" x2="397.40" y2="316.30" stroke="#222" stroke-width="1.0" />
<line x1="312.10" y1="313.00" x2="313.90" y2="313.00" stroke="#111" stroke-width="1.5" />
<line x1="312.40" y1="256.50" x2="313.90" y2="256.50" stroke="#444" stroke-width="0.9" />
<text transform="translate(311.90,243.40) rotate(-90)" font-size="4.6" font-weight="bold" fill="#111" stroke="#111" stroke-width="0.35" textLength="5.5" lengthAdjust="spacingAndGlyphs">50</text>
<text transform="translate(312.60,284.72) rotate(-90)" font-size="4.6" font-weight="bold" fill="#111" stroke="#111" stroke-width="0.3" textLength="14.11" lengthAdjust="spacingAndGlyphs">Count</text>
<rect x="308.70" y="312.10" width="3" height="1.6" fill="#111"/>
<text x="315.50" y="320.10" font-size="4.2" font-weight="bold" fill="#111">.1</text>
<text x="387.50" y="319.70" font-size="4.2" font-weight="bold" fill="#111" stroke="#111" stroke-width="0.25" textLength="11" lengthAdjust="spacingAndGlyphs">1000</text>
<line x1="364.70" y1="302.30" x2="400.00" y2="302.30" stroke="#444" stroke-width="1.0" />
<line x1="364.70" y1="300.70" x2="364.70" y2="303.90" stroke="#333" stroke-width="0.9" />
<text x="366.50" y="299.70" font-size="4" font-weight="bold" fill="#222">a</text>
<polyline points="314.00,310.02 314.50,310.29 315.00,308.84 315.50,309.10 316.00,308.60 316.50,309.07 317.00,308.18 317.50,308.63 318.00,306.35 318.50,305.48 319.00,304.51 319.50,305.43 320.00,304.90 320.50,305.30 321.00,304.17 321.50,303.76 322.00,301.43 322.50,303.18 323.00,300.73 323.50,301.51 324.00,299.49 324.50,299.30 325.00,297.11 325.50,299.40 326.00,298.55 326.50,298.14 327.00,294.96 327.50,295.01 328.00,292.64 328.50,292.62 329.00,292.20 329.50,292.39 330.00,289.61 330.50,290.84 331.00,288.90 331.50,290.20 332.00,287.29 332.50,287.92 333.00,284.20 333.50,285.35 334.00,282.63 334.50,285.72 335.00,285.53 335.50,287.95 336.00,286.39 336.50,288.51 337.00,287.73 337.50,291.54 338.00,291.45 338.50,292.67 339.00,291.52 339.50,295.06 340.00,294.79 340.50,296.54 341.00,298.15 341.50,300.12 342.00,298.28 342.50,300.01 343.00,299.39 343.50,301.28 344.00,301.54 344.50,303.97 345.00,302.36 345.50,302.91 346.00,302.86 346.50,304.42 347.00,303.30 347.50,303.39 348.00,302.37 348.50,303.10 349.00,301.66 349.50,304.45 350.00,304.03 350.50,303.58 351.00,301.56 351.50,301.88 352.00,298.43 352.50,299.41 353.00,298.72 353.50,298.65 354.00,296.58 354.50,298.93 355.00,298.35 355.50,299.92 356.00,298.84 356.50,301.01 357.00,298.33 357.50,299.52 358.00,299.67 358.50,301.71 359.00,301.57 359.50,303.66 360.00,303.08 360.50,303.06 361.00,302.75 361.50,305.29 362.00,305.60 362.50,305.92 363.00,303.84 363.50,303.21 364.00,300.32 364.50,301.68 365.00,295.95 365.50,290.58 366.00,282.16 366.50,276.63 367.00,269.83 367.50,268.28 368.00,260.70 368.50,258.64 369.00,252.78 369.50,254.53 370.00,248.70 370.50,255.04 371.00,250.87 371.50,257.85 372.00,256.03 372.50,261.26 373.00,262.64 373.50,271.10 374.00,273.14 374.50,279.99 375.00,282.64 375.50,288.01 376.00,291.40 376.50,297.84 377.00,300.13 377.50,302.51 378.00,302.66 378.50,305.31 379.00,305.63 379.50,307.54 380.00,308.16 380.50,309.08 381.00,307.17 381.50,308.37 382.00,308.84 382.50,309.89 383.00,309.74 383.50,311.44 384.00,310.25 384.50,310.37 385.00,310.68 385.50,311.65 386.00,311.36 386.50,311.98 387.00,311.34 387.50,311.95 388.00,311.52 388.50,312.95 389.00,312.70 389.50,312.73 390.00,312.04 390.50,312.84 391.00,312.29 391.50,312.91 392.00,312.88 392.50,313.34 393.00,312.86 393.50,313.24 394.00,313.24 394.50,313.46 395.00,313.09 395.50,313.62 396.00,312.85 396.50,312.76 397.00,312.89 397.50,313.68 398.00,313.29 398.50,313.59 399.00,313.25" fill="none" stroke="#111" stroke-width="0.85" stroke-linejoin="round" />
<polyline points="427.40,316.40 427.40,238.70 513.30,238.70 513.30,316.40" fill="none" stroke="#3a3a3a" stroke-width="1.2"/>
<line x1="427.40" y1="316.40" x2="513.30" y2="316.40" stroke="#555" stroke-width="1.0" />
<line x1="430.40" y1="316.20" x2="430.40" y2="317.40" stroke="#222" stroke-width="1.0" />
<line x1="432.70" y1="316.20" x2="432.70" y2="317.40" stroke="#222" stroke-width="1.0" />
<line x1="435.00" y1="316.20" x2="435.00" y2="317.40" stroke="#222" stroke-width="1.0" />
<line x1="437.30" y1="316.20" x2="437.30" y2="317.40" stroke="#222" stroke-width="1.0" />
<line x1="439.60" y1="316.20" x2="439.60" y2="317.40" stroke="#222" stroke-width="1.0" />
<line x1="441.90" y1="316.20" x2="441.90" y2="317.40" stroke="#222" stroke-width="1.0" />
<line x1="444.20" y1="316.20" x2="444.20" y2="317.40" stroke="#222" stroke-width="1.0" />
<line x1="446.50" y1="316.20" x2="446.50" y2="317.40" stroke="#222" stroke-width="1.0" />
<line x1="448.80" y1="316.20" x2="448.80" y2="317.40" stroke="#222" stroke-width="1.0" />
<line x1="451.10" y1="316.20" x2="451.10" y2="317.40" stroke="#222" stroke-width="1.0" />
<line x1="453.40" y1="316.20" x2="453.40" y2="317.40" stroke="#222" stroke-width="1.0" />
<line x1="455.70" y1="316.20" x2="455.70" y2="317.40" stroke="#222" stroke-width="1.0" />
<line x1="458.00" y1="316.20" x2="458.00" y2="317.40" stroke="#222" stroke-width="1.0" />
<line x1="460.30" y1="316.20" x2="460.30" y2="317.40" stroke="#222" stroke-width="1.0" />
<line x1="462.60" y1="316.20" x2="462.60" y2="317.40" stroke="#222" stroke-width="1.0" />
<line x1="464.90" y1="316.20" x2="464.90" y2="317.40" stroke="#222" stroke-width="1.0" />
<line x1="467.20" y1="316.20" x2="467.20" y2="317.40" stroke="#222" stroke-width="1.0" />
<line x1="469.50" y1="316.20" x2="469.50" y2="317.40" stroke="#222" stroke-width="1.0" />
<line x1="471.80" y1="316.20" x2="471.80" y2="317.40" stroke="#222" stroke-width="1.0" />
<line x1="474.10" y1="316.20" x2="474.10" y2="317.40" stroke="#222" stroke-width="1.0" />
<line x1="476.40" y1="316.20" x2="476.40" y2="317.40" stroke="#222" stroke-width="1.0" />
<line x1="478.70" y1="316.20" x2="478.70" y2="317.40" stroke="#222" stroke-width="1.0" />
<line x1="481.00" y1="316.20" x2="481.00" y2="317.40" stroke="#222" stroke-width="1.0" />
<line x1="483.30" y1="316.20" x2="483.30" y2="317.40" stroke="#222" stroke-width="1.0" />
<line x1="485.60" y1="316.20" x2="485.60" y2="317.40" stroke="#222" stroke-width="1.0" />
<line x1="487.90" y1="316.20" x2="487.90" y2="317.40" stroke="#222" stroke-width="1.0" />
<line x1="490.20" y1="316.20" x2="490.20" y2="317.40" stroke="#222" stroke-width="1.0" />
<line x1="492.50" y1="316.20" x2="492.50" y2="317.40" stroke="#222" stroke-width="1.0" />
<line x1="494.80" y1="316.20" x2="494.80" y2="317.40" stroke="#222" stroke-width="1.0" />
<line x1="497.10" y1="316.20" x2="497.10" y2="317.40" stroke="#222" stroke-width="1.0" />
<line x1="499.40" y1="316.20" x2="499.40" y2="317.40" stroke="#222" stroke-width="1.0" />
<line x1="501.70" y1="316.20" x2="501.70" y2="317.40" stroke="#222" stroke-width="1.0" />
<line x1="504.00" y1="316.20" x2="504.00" y2="317.40" stroke="#222" stroke-width="1.0" />
<line x1="506.30" y1="316.20" x2="506.30" y2="317.40" stroke="#222" stroke-width="1.0" />
<line x1="508.60" y1="316.20" x2="508.60" y2="317.40" stroke="#222" stroke-width="1.0" />
<line x1="510.90" y1="316.20" x2="510.90" y2="317.40" stroke="#222" stroke-width="1.0" />
<line x1="425.60" y1="314.10" x2="427.40" y2="314.10" stroke="#111" stroke-width="1.5" />
<line x1="425.90" y1="258.12" x2="427.40" y2="258.12" stroke="#444" stroke-width="0.9" />
<text transform="translate(425.40,247.70) rotate(-90)" font-size="4.6" font-weight="bold" fill="#111" stroke="#111" stroke-width="0.35" textLength="8.0" lengthAdjust="spacingAndGlyphs">100</text>
<text transform="translate(426.10,286.10) rotate(-90)" font-size="4.6" font-weight="bold" fill="#111" stroke="#111" stroke-width="0.3" textLength="13.99" lengthAdjust="spacingAndGlyphs">Count</text>
<rect x="422.20" y="313.20" width="3" height="1.6" fill="#111"/>
<text x="429.00" y="321.20" font-size="4.2" font-weight="bold" fill="#111">.1</text>
<text x="500.80" y="320.80" font-size="4.2" font-weight="bold" fill="#111" stroke="#111" stroke-width="0.25" textLength="11" lengthAdjust="spacingAndGlyphs">1000</text>
<line x1="462.10" y1="302.50" x2="513.30" y2="302.50" stroke="#444" stroke-width="1.0" />
<line x1="462.10" y1="300.90" x2="462.10" y2="304.10" stroke="#333" stroke-width="0.9" />
<text x="463.90" y="299.90" font-size="4" font-weight="bold" fill="#222">a</text>
<polyline points="428.00,309.25 428.50,310.09 429.00,309.03 429.50,309.67 430.00,308.33 430.50,307.08 431.00,305.87 431.50,307.60 432.00,306.78 432.50,306.47 433.00,304.80 433.50,305.09 434.00,302.92 434.50,303.64 435.00,302.69 435.50,302.58 436.00,298.86 436.50,299.76 437.00,298.43 437.50,299.15 438.00,298.07 438.50,298.07 439.00,294.70 439.50,294.91 440.00,292.58 440.50,293.76 441.00,290.93 441.50,293.09 442.00,291.83 442.50,291.61 443.00,290.91 443.50,293.88 444.00,291.35 444.50,292.38 445.00,291.24 445.50,292.73 446.00,291.40 446.50,294.12 447.00,295.29 447.50,297.64 448.00,296.70 448.50,299.57 449.00,299.87 449.50,302.20 450.00,302.13 450.50,304.34 451.00,303.90 451.50,305.84 452.00,306.21 452.50,308.41 453.00,308.60 453.50,310.09 454.00,308.69 454.50,308.78 455.00,308.49 455.50,310.74 456.00,309.88 456.50,310.37 457.00,309.64 457.50,309.34 458.00,307.89 458.50,309.66 459.00,308.82 459.50,307.76 460.00,306.14 460.50,306.52 461.00,305.14 461.50,305.81 462.00,306.08 462.50,306.55 463.00,303.58 463.50,303.89 464.00,303.07 464.50,303.87 465.00,302.99 465.50,304.11 466.00,302.14 466.50,302.15 467.00,301.53 467.50,303.33 468.00,301.74 468.50,302.14 469.00,300.32 469.50,300.23 470.00,299.01 470.50,301.92 471.00,301.80 471.50,302.35 472.00,301.85 472.50,303.26 473.00,302.22 473.50,303.92 474.00,303.42 474.50,304.36 475.00,303.06 475.50,304.41 476.00,304.69 476.50,304.84 477.00,303.14 477.50,302.26 478.00,298.50 478.50,297.17 479.00,291.32 479.50,287.66 480.00,280.61 480.50,277.69 481.00,268.53 481.50,266.36 482.00,259.41 482.50,258.18 483.00,252.45 483.50,254.34 484.00,248.51 484.50,254.07 485.00,249.38 485.50,258.39 486.00,256.22 486.50,263.60 487.00,264.24 487.50,273.31 488.00,274.57 488.50,284.05 489.00,288.98 489.50,297.12 490.00,298.86 490.50,302.11 491.00,304.72 491.50,308.19 492.00,308.15 492.50,309.52 493.00,308.32 493.50,308.47 494.00,308.69 494.50,310.79 495.00,310.45 495.50,311.18 496.00,311.13 496.50,311.40 497.00,310.73 497.50,311.80 498.00,311.98 498.50,311.62 499.00,310.73 499.50,312.03 500.00,311.51 500.50,312.61 501.00,312.87 501.50,313.31 502.00,312.21 502.50,312.74 503.00,312.59 503.50,313.33 504.00,312.88 504.50,313.81 505.00,313.00 505.50,313.36 506.00,313.34 506.50,314.51 507.00,313.92 507.50,314.24 508.00,313.62 508.50,313.88 509.00,313.23 509.50,314.24 510.00,313.99 510.50,314.27 511.00,313.83 511.50,314.25 512.00,313.68 512.50,314.18" fill="none" stroke="#111" stroke-width="0.85" stroke-linejoin="round" />
</svg>
</body></html>
